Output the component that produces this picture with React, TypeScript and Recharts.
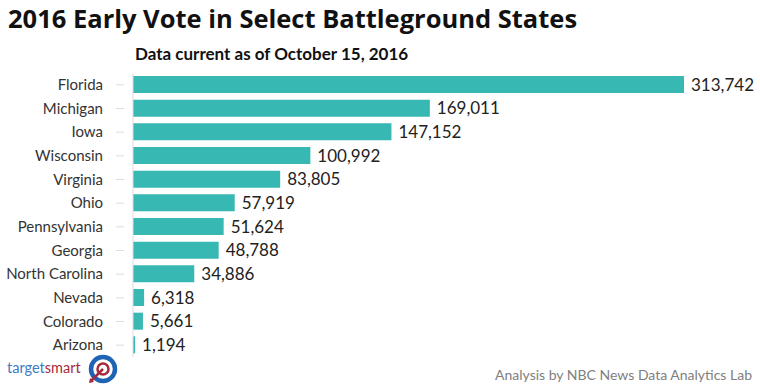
import { BarChart, Bar, XAxis, YAxis, LabelList } from "recharts";

const states = [
  "Florida",
  "Michigan",
  "Iowa",
  "Wisconsin",
  "Virginia",
  "Ohio",
  "Pennsylvania",
  "Georgia",
  "North Carolina",
  "Nevada",
  "Colorado",
  "Arizona",
];
const earlyVotes = [
  313742, 169011, 147152, 100992, 83805, 57919, 51624, 48788, 34886, 6318,
  5661, 1194,
];

const data = states.map((state, i) => ({ state, votes: earlyVotes[i] }));

const FONT = "Lato, 'Open Sans', sans-serif";

function StateTick(props: any) {
  const { x, y, payload } = props;
  return (
    <g>
      <line x1={x - 17} x2={x - 9} y1={y} y2={y} stroke="#ddd" />
      <text
        x={x - 30}
        y={y}
        dy={5}
        textAnchor="end"
        fontSize={15}
        fill="#333"
        fontFamily={FONT}
      >
        {payload.value}
      </text>
    </g>
  );
}

function Logo() {
  return (
    <svg width={130} height={32} style={{ position: "absolute", left: 0, top: 354 }}>
      <text x={7} y={19} fontSize={14.5} fontFamily={FONT}>
        <tspan fill="#3b7cc4">target</tspan>
        <tspan fill="#a8293c">smart</tspan>
      </text>
      <circle cx={103} cy={15} r={12} fill="#fff" stroke="#1f64b4" strokeWidth={4.5} />
      <circle cx={103} cy={15} r={5.5} fill="none" stroke="#a8293c" strokeWidth={2.5} />
      <line x1={91} y1={27} x2={103} y2={15} stroke="#a8293c" strokeWidth={2.5} />
      <path d="M90 24 L94 28 L89 29 Z" fill="#a8293c" />
    </svg>
  );
}

export default function App() {
  return (
    <div
      style={{
        position: "absolute",
        left: 0,
        top: 0,
        width: 760,
        height: 386,
        background: "#fff",
        fontFamily: FONT,
      }}
    >
      <div
        style={{
          position: "absolute",
          left: 8,
          top: 1,
          fontSize: 25.5,
          fontWeight: 700,
          fontFamily: "'Open Sans', sans-serif",
          color: "#111",
          whiteSpace: "nowrap",
        }}
      >
        2016 Early Vote in Select Battleground States
      </div>
      <div
        style={{
          position: "absolute",
          left: 135,
          top: 43,
          fontSize: 17,
          fontWeight: 700,
          color: "#111",
          whiteSpace: "nowrap",
        }}
      >
        Data current as of October 15, 2016
      </div>
      <BarChart
        width={760}
        height={386}
        data={data}
        layout="vertical"
        margin={{ top: 73, right: 76, bottom: 29, left: 0 }}
      >
        <XAxis type="number" domain={[0, 313742]} hide />
        <YAxis
          type="category"
          dataKey="state"
          width={133}
          tickSize={0}
          tickMargin={0}
          axisLine={{ stroke: "#ddd" }}
          tickLine={false}
          tick={<StateTick />}
          interval={0}
        />
        <Bar dataKey="votes" fill="#37b8b2" barSize={17} isAnimationActive={false}>
          <LabelList
            dataKey="votes"
            position="right"
            offset={7}
            formatter={(v: any) => Number(v).toLocaleString("en-US")}
            style={{ fontSize: 17, fill: "#222", fontFamily: FONT }}
          />
        </Bar>
      </BarChart>
      <Logo />
      <div
        style={{
          position: "absolute",
          right: 8,
          top: 366,
          fontSize: 14,
          color: "#808080",
          whiteSpace: "nowrap",
        }}
      >
        Analysis by NBC News Data Analytics Lab
      </div>
    </div>
  );
}
